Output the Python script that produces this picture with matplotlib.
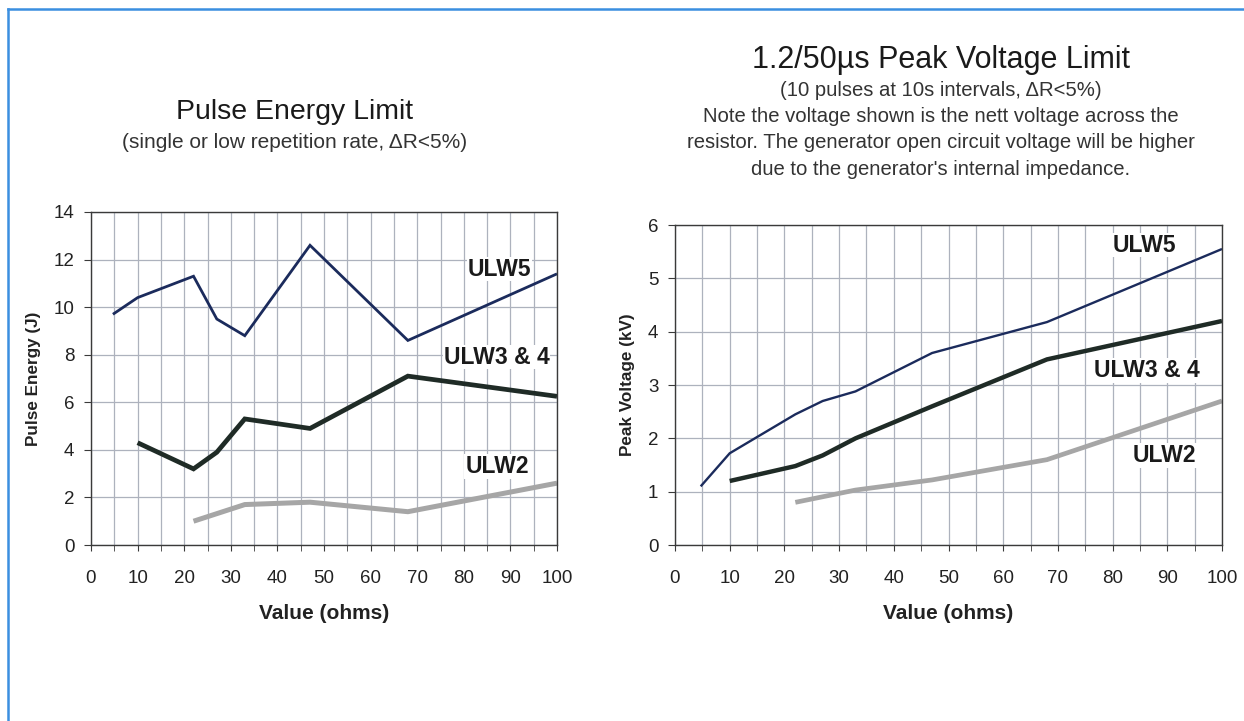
import matplotlib
matplotlib.use("Agg")
import matplotlib.pyplot as plt
from matplotlib.lines import Line2D
from matplotlib.ticker import MultipleLocator

plt.rcParams['font.family'] = ['Liberation Sans', 'DejaVu Sans']

# ---- data: Pulse Energy Limit (J) ----
pe_ulw5_x = [4.7, 10, 22, 27, 33, 47, 68, 100]
pe_ulw5_y = [9.7, 10.4, 11.3, 9.5, 8.8, 12.6, 8.6, 11.4]
pe_ulw34_x = [10, 22, 27, 33, 47, 68, 100]
pe_ulw34_y = [4.3, 3.2, 3.9, 5.3, 4.9, 7.1, 6.25]
pe_ulw2_x = [22, 33, 47, 68, 100]
pe_ulw2_y = [1.0, 1.7, 1.8, 1.4, 2.6]

# ---- data: Peak Voltage Limit (kV) ----
pv_ulw5_x = [4.7, 10, 22, 27, 33, 47, 68, 100]
pv_ulw5_y = [1.1, 1.72, 2.45, 2.7, 2.88, 3.6, 4.18, 5.55]
pv_ulw34_x = [10, 22, 27, 33, 47, 68, 100]
pv_ulw34_y = [1.2, 1.48, 1.68, 2.0, 2.6, 3.48, 4.2]
pv_ulw2_x = [22, 33, 47, 68, 100]
pv_ulw2_y = [0.8, 1.03, 1.22, 1.6, 2.7]

series_labels = ["ULW5", "ULW3 & 4", "ULW2"]
x_ticks = [0, 10, 20, 30, 40, 50, 60, 70, 80, 90, 100]

C5 = "#1b2b5c"
C34 = "#1f2b26"
C2 = "#a6a6a6"
GRID = "#adb2bd"
AX = "#3a3a3a"

fig = plt.figure(figsize=(12.44, 7.21), dpi=100)
fig.patch.set_facecolor("white")

axL = fig.add_axes([91/1244, 1-545/721, (557-91)/1244, (545-212)/721])
axR = fig.add_axes([675/1244, 1-545/721, (1222-675)/1244, (545-225)/721])


def style(ax, ymax, ystep, ylabel):
    ax.set_xlim(0, 100)
    ax.set_ylim(0, ymax)
    ax.set_xticks(x_ticks)
    ax.xaxis.set_minor_locator(MultipleLocator(5))
    ax.yaxis.set_major_locator(MultipleLocator(ystep))
    ax.grid(True, which="both", axis="x", color=GRID, lw=0.9)
    ax.grid(True, which="major", axis="y", color=GRID, lw=0.9)
    ax.set_axisbelow(True)
    for s in ax.spines.values():
        s.set_color(AX)
        s.set_linewidth(1.0)
    ax.tick_params(axis="x", which="both", direction="out", length=4, color=AX,
                   labelsize=13.5, pad=14, labelcolor="#222222")
    ax.tick_params(axis="y", which="major", direction="out", length=5, color=AX,
                   labelsize=13.5, pad=7, labelcolor="#222222")
    ax.set_xlabel("Value (ohms)", fontsize=15, fontweight="bold", labelpad=12,
                  color="#222222")
    ax.set_ylabel(ylabel, fontsize=12.3, fontweight="bold", labelpad=9,
                  color="#222222")


style(axL, 14, 2, "Pulse Energy (J)")
style(axR, 6, 1, "Peak Voltage (kV)")

cap = dict(solid_capstyle="butt", solid_joinstyle="miter")
axL.plot(pe_ulw5_x, pe_ulw5_y, color=C5, lw=2.0, **cap)
axL.plot(pe_ulw34_x, pe_ulw34_y, color=C34, lw=3.4, **cap)
axL.plot(pe_ulw2_x, pe_ulw2_y, color=C2, lw=3.6, **cap)

axR.plot(pv_ulw5_x, pv_ulw5_y, color=C5, lw=1.7, **cap)
axR.plot(pv_ulw34_x, pv_ulw34_y, color=C34, lw=3.2, **cap)
axR.plot(pv_ulw2_x, pv_ulw2_y, color=C2, lw=3.4, **cap)

box = dict(facecolor="white", edgecolor="none", pad=0.5)
lab_kw = dict(fontsize=16.5, fontweight="bold", ha="center", va="center",
              color="#1a1a1a", bbox=box)
axL.text(87.6, 11.6, series_labels[0], **lab_kw)
axL.text(87.1, 7.9, series_labels[1], **lab_kw)
axL.text(87.1, 3.3, series_labels[2], **lab_kw)
axR.text(85.8, 5.62, series_labels[0], **lab_kw)
axR.text(86.3, 3.27, series_labels[1], **lab_kw)
axR.text(89.5, 1.68, series_labels[2], **lab_kw)

# titles
fig.text(295/1244, 1-112/721, "Pulse Energy Limit", fontsize=20.5,
         ha="center", va="center", color="#1a1a1a")
fig.text(295/1244, 1-143/721, "(single or low repetition rate, \u0394R<5%)",
         fontsize=15, ha="center", va="center", color="#333333")
fig.text(941/1244, 1-60/721, "1.2/50\u00b5s Peak Voltage Limit", fontsize=22,
         ha="center", va="center", color="#1a1a1a")
sub_lines = ["(10 pulses at 10s intervals, \u0394R<5%)",
             "Note the voltage shown is the nett voltage across the",
             "resistor. The generator open circuit voltage will be higher",
             "due to the generator's internal impedance."]
for i, ln in enumerate(sub_lines):
    fig.text(941/1244, 1-(90+26.5*i)/721, ln, fontsize=14.6, ha="center",
             va="center", color="#333333")

# blue frame (top and left)
fig.add_artist(Line2D([8/1244, 1.0], [1-9/721, 1-9/721], transform=fig.transFigure,
                      color="#3b8fe0", lw=1.8))
fig.add_artist(Line2D([8/1244, 8/1244], [0, 1-9/721], transform=fig.transFigure,
                      color="#3b8fe0", lw=1.8))

fig.savefig("out.png", dpi=100, facecolor="white")
